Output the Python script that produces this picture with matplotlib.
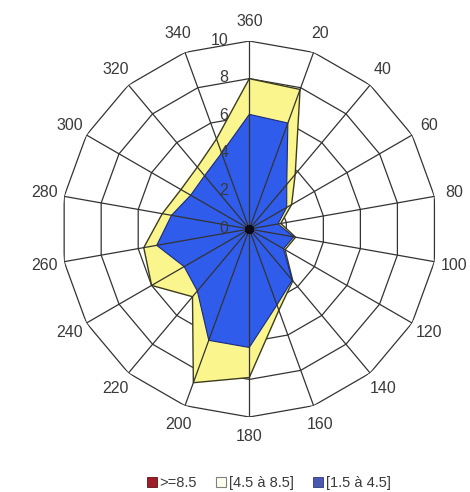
import numpy as np
import matplotlib
matplotlib.use("Agg")
import matplotlib.pyplot as plt
from matplotlib.patches import Patch
from matplotlib.transforms import offset_copy

plt.rcParams['font.family'] = ['Liberation Sans', 'DejaVu Sans']

# ---- data ----
directions = [0, 20, 40, 60, 80, 100, 120, 140, 160, 180,
              200, 220, 240, 260, 280, 300, 320, 340]
direction_labels = ["360", "20", "40", "60", "80", "100", "120", "140", "160",
                    "180", "200", "220", "240", "260", "280", "300", "320", "340"]
ring_values = [0, 2, 4, 6, 8, 10]
ring_labels = ["0", "2", "4", "6", "8", "10"]

series_names = [">=8.5", "[4.5 à 8.5]", "[1.5 à 4.5]"]
red_vals = [0] * 18
yellow_vals = [8.0, 7.9, 3.8, 2.6, 1.7, 2.5, 2.2, 3.6, 4.6, 7.9,
               8.7, 4.7, 6.0, 5.7, 4.7, 4.2, 4.3, 5.1]
blue_vals = [6.1, 6.0, 3.1, 2.3, 1.55, 2.4, 2.1, 3.55, 4.3, 6.3,
             6.3, 4.3, 4.0, 5.0, 4.2, 3.6, 3.7, 4.3]

# ---- styles ----
grid_col = "#333333"
text_col = "#3a3a3a"
yellow_col = "#FAF58C"
blue_col = "#2F5CEB"
red_col = "#A01C28"

fig = plt.figure(figsize=(4.7, 4.92), dpi=100)
ax = fig.add_axes([0.1304, 0.1524, 0.8, 0.7642], projection='polar')
ax.set_theta_zero_location('N')
ax.set_theta_direction(-1)
ax.set_ylim(0, 10)
ax.grid(False)
ax.spines['polar'].set_visible(False)
ax.set_xticks([])
ax.set_yticks([])

theta = np.deg2rad(directions)
theta_c = np.append(theta, theta[0])

def closed(v):
    return np.append(np.asarray(v, float), v[0])

# ring polygons (under fills)
for r in ring_values[1:]:
    ax.plot(theta_c, [r] * len(theta_c), color=grid_col, lw=0.9, zorder=1)

# series fills
ax.fill(theta_c, closed(yellow_vals), facecolor=yellow_col, edgecolor="#3c3c1e",
        lw=1.0, zorder=2)
ax.fill(theta_c, closed(blue_vals), facecolor=blue_col, edgecolor="#1a2a80",
        lw=0.8, zorder=3)

# spokes on top
for t in theta:
    ax.plot([t, t], [0, 10], color=grid_col, lw=0.9, zorder=4)

# red series (all zero) -> dot at centre
ax.plot(theta, red_vals, 'o', color="#0a0a1a", ms=5, zorder=5)

# ring labels
tr = offset_copy(ax.transData, fig=fig, x=-21, y=1, units='dots')
for r, lab in zip(ring_values, ring_labels):
    ax.text(0, r, lab, transform=tr, ha='right', va='center',
            fontsize=11.5, color=text_col, zorder=6)

# direction labels
for t, lab in zip(theta, direction_labels):
    ax.text(t, 11.05, lab, ha='center', va='center', fontsize=11.5,
            color=text_col, clip_on=False)

# legend
handles = [Patch(facecolor=red_col, edgecolor="#601018", lw=0.6),
           Patch(facecolor="#FFFFF0", edgecolor="#808080", lw=0.8),
           Patch(facecolor="#4a58b0", edgecolor="#303880", lw=0.6)]
fig.legend(handles=handles, labels=series_names, loc='center',
           bbox_to_anchor=(0.572, 1 - 483 / 492), ncol=3, frameon=False,
           handlelength=0.7, handleheight=0.7, handletextpad=0.2,
           columnspacing=1.3, fontsize=10.5, labelcolor=text_col)

fig.savefig("out.png", dpi=100, facecolor="white")
